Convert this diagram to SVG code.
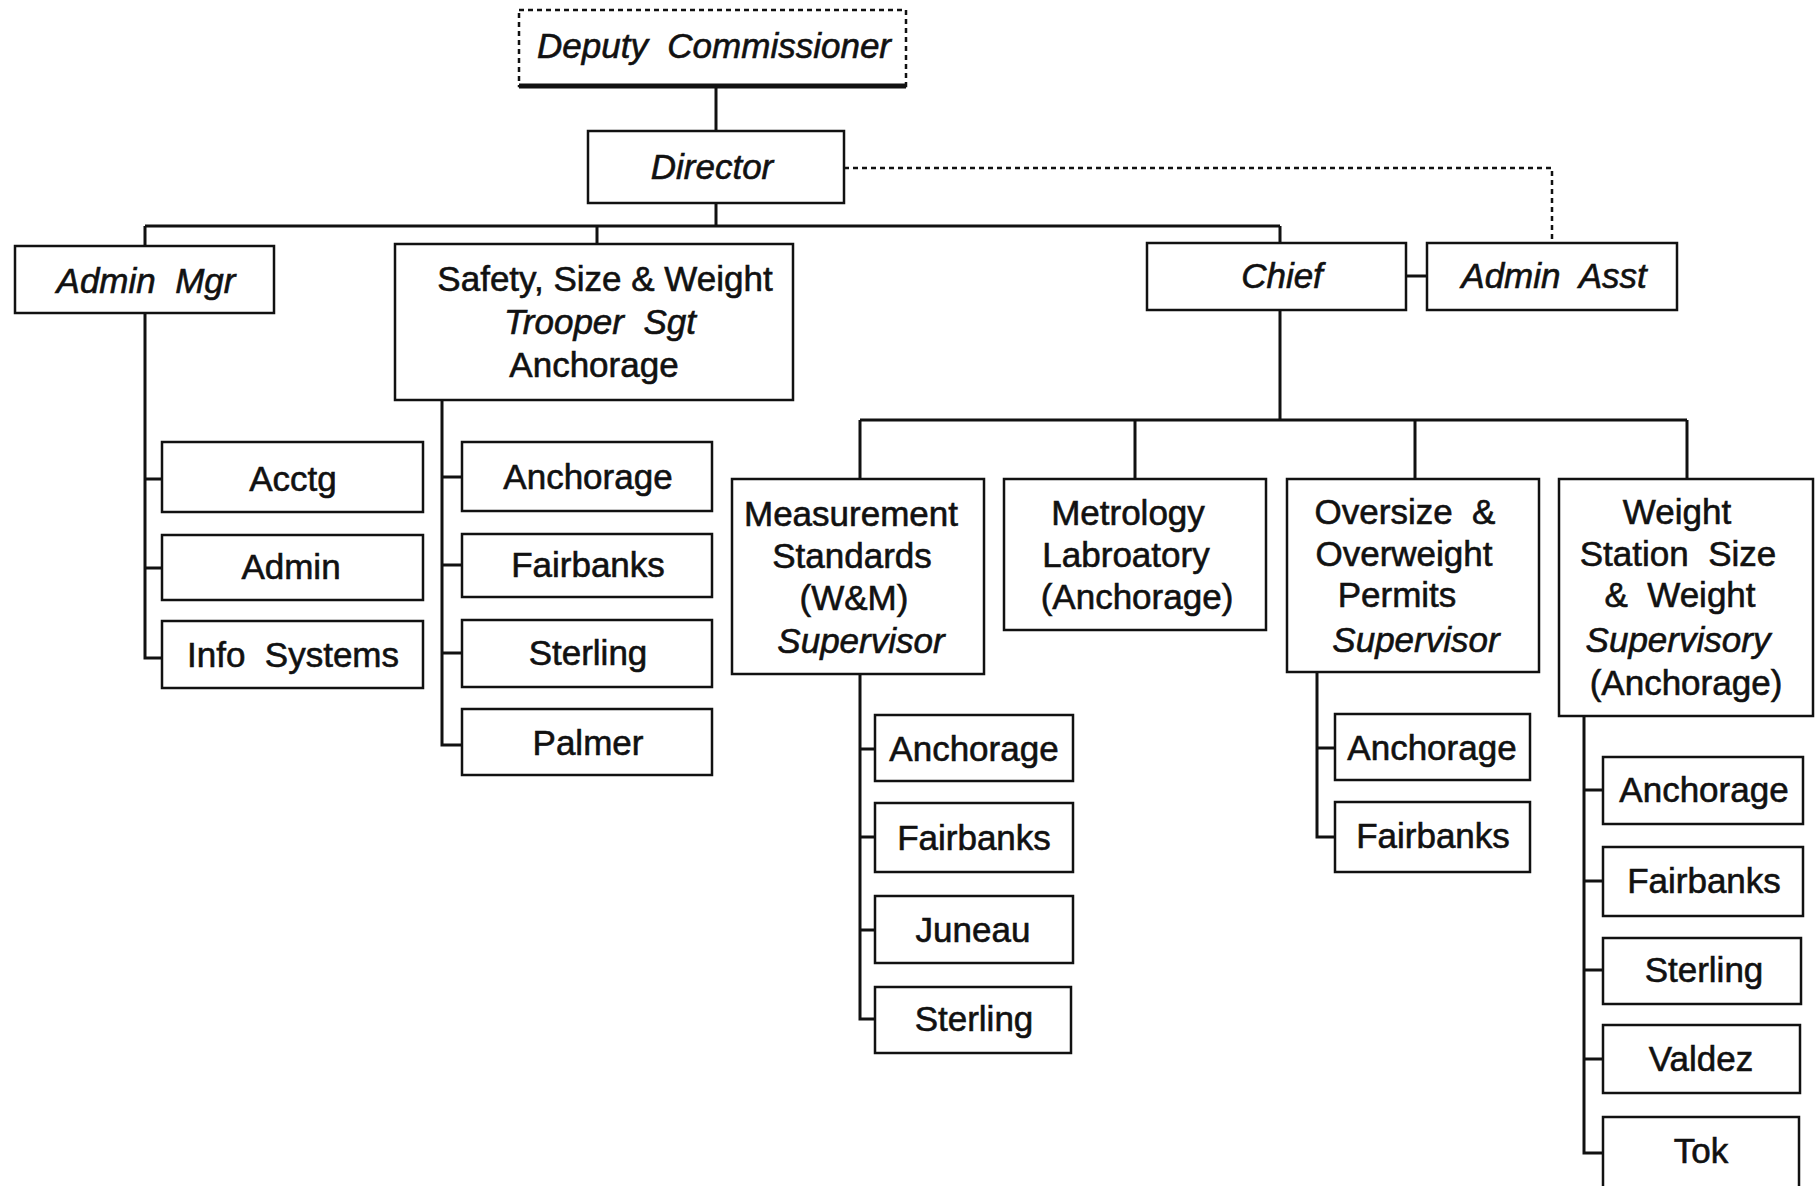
<svg xmlns="http://www.w3.org/2000/svg" width="1820" height="1186" viewBox="0 0 1820 1186">
<style>
  .box { fill: #fff; stroke: #111; stroke-width: 2.5; }
  .ln { fill: none; stroke: #111; stroke-width: 3; }
  .dash { fill: none; stroke: #111; stroke-width: 2.5; stroke-dasharray: 5 4; }
  text { font-family: "Liberation Sans", Arial, sans-serif; font-size: 35px; fill: #111; stroke: #111; stroke-width: 0.6; text-anchor: middle; white-space: pre; }
  .it { font-style: italic; }
</style>
<rect width="1820" height="1186" fill="#fff"/>
<g id="connectors">
  <path class="ln" d="M716 87 V131"/>
  <path class="ln" d="M716 203 V226 M145 226 H1280 M145 226 V246 M597 226 V244 M1280 226 V243"/>
  <path class="dash" d="M844 168 H1552 V243"/>
  <path class="ln" d="M1406 276 H1427"/>
  <path class="ln" d="M1280 310 V420 M860 420 H1687 M860 420 V479 M1135 420 V479 M1415 420 V479 M1687 420 V479"/>
  <path class="ln" d="M145 313 V658 H162 M145 479 H162 M145 568 H162"/>
  <path class="ln" d="M442 400 V745 H462 M442 477 H462 M442 565 H462 M442 653 H462"/>
  <path class="ln" d="M860 674 V1019 H875 M860 749 H875 M860 837 H875 M860 930 H875"/>
  <path class="ln" d="M1317 672 V837 H1335 M1317 748 H1335"/>
  <path class="ln" d="M1584 716 V1153 H1603 M1584 790 H1603 M1584 881 H1603 M1584 970 H1603 M1584 1059 H1603"/>
</g>
<g id="deputy-commissioner">
  <rect x="519" y="10" width="387" height="76" fill="#fff" class="dash"/>
  <path d="M519 86 H906" stroke="#111" stroke-width="5"/>
  <text class="it" x="714" y="58" xml:space="preserve">Deputy  Commissioner</text>
</g>
<g id="director">
  <rect class="box" x="588" y="131" width="256" height="72"/>
  <text class="it" x="712" y="179">Director</text>
</g>
<g id="admin-mgr">
  <rect class="box" x="15" y="246" width="259" height="67"/>
  <text class="it" x="146" y="293" xml:space="preserve">Admin  Mgr</text>
</g>
<g id="safety">
  <rect class="box" x="395" y="244" width="398" height="156"/>
  <text x="605" y="291">Safety, Size &amp; Weight</text>
  <text class="it" x="600" y="334" xml:space="preserve">Trooper  Sgt</text>
  <text x="594" y="377">Anchorage</text>
</g>
<g id="chief">
  <rect class="box" x="1147" y="243" width="259" height="67"/>
  <text class="it" x="1282" y="288">Chief</text>
</g>
<g id="admin-asst">
  <rect class="box" x="1427" y="243" width="250" height="67"/>
  <text class="it" x="1554" y="288" xml:space="preserve">Admin  Asst</text>
</g>
<g id="acctg"><rect class="box" x="162" y="442" width="261" height="70"/><text x="293" y="491">Acctg</text></g>
<g id="admin"><rect class="box" x="162" y="535" width="261" height="65"/><text x="291" y="579">Admin</text></g>
<g id="info-systems"><rect class="box" x="162" y="621" width="261" height="67"/><text x="293" y="667" xml:space="preserve">Info  Systems</text></g>
<g id="ssw-anchorage"><rect class="box" x="462" y="442" width="250" height="69"/><text x="588" y="489">Anchorage</text></g>
<g id="ssw-fairbanks"><rect class="box" x="462" y="534" width="250" height="63"/><text x="588" y="577">Fairbanks</text></g>
<g id="ssw-sterling"><rect class="box" x="462" y="620" width="250" height="67"/><text x="588" y="665">Sterling</text></g>
<g id="ssw-palmer"><rect class="box" x="462" y="709" width="250" height="66"/><text x="588" y="755">Palmer</text></g>
<g id="measurement">
  <rect class="box" x="732" y="479" width="252" height="195"/>
  <text x="851" y="526">Measurement</text>
  <text x="852" y="568">Standards</text>
  <text x="854" y="610">(W&amp;M)</text>
  <text class="it" x="861" y="653">Supervisor</text>
</g>
<g id="metrology">
  <rect class="box" x="1004" y="479" width="262" height="151"/>
  <text x="1128" y="525">Metrology</text>
  <text x="1126" y="567">Labroatory</text>
  <text x="1137" y="609">(Anchorage)</text>
</g>
<g id="oversize">
  <rect class="box" x="1287" y="479" width="252" height="193"/>
  <text x="1405" y="524" xml:space="preserve">Oversize  &amp;</text>
  <text x="1404" y="566">Overweight</text>
  <text x="1397" y="607">Permits</text>
  <text class="it" x="1416" y="652">Supervisor</text>
</g>
<g id="weight-station">
  <rect class="box" x="1559" y="479" width="254" height="237"/>
  <text x="1677" y="524">Weight</text>
  <text x="1678" y="566" xml:space="preserve">Station  Size</text>
  <text x="1680" y="607" xml:space="preserve">&amp;  Weight</text>
  <text class="it" x="1678" y="652">Supervisory</text>
  <text x="1686" y="695">(Anchorage)</text>
</g>
<g id="ms-anchorage"><rect class="box" x="875" y="715" width="198" height="66"/><text x="974" y="761">Anchorage</text></g>
<g id="ms-fairbanks"><rect class="box" x="875" y="803" width="198" height="69"/><text x="974" y="850">Fairbanks</text></g>
<g id="ms-juneau"><rect class="box" x="875" y="896" width="198" height="67"/><text x="973" y="942">Juneau</text></g>
<g id="ms-sterling"><rect class="box" x="875" y="987" width="196" height="66"/><text x="974" y="1031">Sterling</text></g>
<g id="ow-anchorage"><rect class="box" x="1335" y="714" width="195" height="66"/><text x="1432" y="760">Anchorage</text></g>
<g id="ow-fairbanks"><rect class="box" x="1335" y="802" width="195" height="70"/><text x="1433" y="848">Fairbanks</text></g>
<g id="ws-anchorage"><rect class="box" x="1603" y="757" width="200" height="67"/><text x="1704" y="802">Anchorage</text></g>
<g id="ws-fairbanks"><rect class="box" x="1603" y="847" width="200" height="69"/><text x="1704" y="893">Fairbanks</text></g>
<g id="ws-sterling"><rect class="box" x="1603" y="938" width="198" height="66"/><text x="1704" y="982">Sterling</text></g>
<g id="ws-valdez"><rect class="box" x="1603" y="1025" width="197" height="68"/><text x="1701" y="1071">Valdez</text></g>
<g id="ws-tok"><rect class="box" x="1603" y="1117" width="196" height="80"/><text x="1701" y="1163">Tok</text></g>
</svg>
